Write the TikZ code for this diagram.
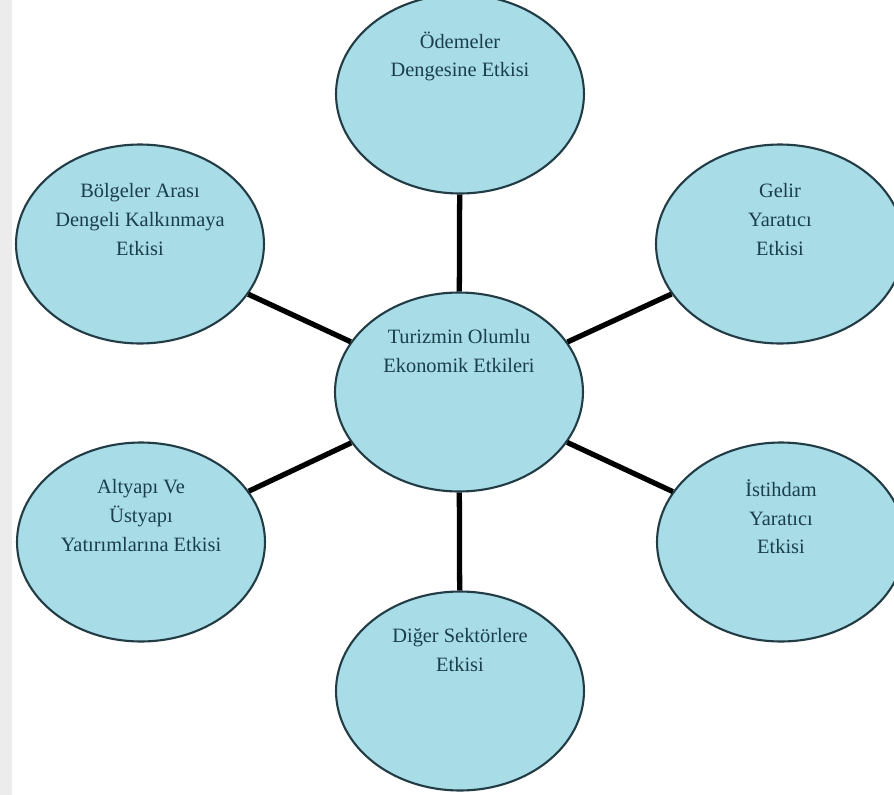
\documentclass[tikz,border=0pt]{standalone}
\usepackage{fontspec}
\setmainfont{Liberation Serif}
\usepackage{tikz}
\usetikzlibrary{shapes,calc,positioning}
\definecolor{bubblefill}{RGB}{168,220,230}
\definecolor{bubbleline}{RGB}{34,60,70}
\definecolor{bubbletext}{RGB}{26,62,76}
\definecolor{sidestrip}{RGB}{236,236,236}
\tikzstyle{bubble}=[ellipse, draw=bubbleline, fill=bubblefill,
                    line width=1.2pt, minimum width=4.96cm,
                    minimum height=3.98cm, inner sep=0pt]
\tikzstyle{txt}   =[align=center, inner sep=0pt, text=bubbletext,
                    font=\fontsize{11.6}{16.3}\selectfont]
\tikzstyle{link}  =[line width=3pt, black]

\begin{document}
\begin{tikzpicture}[x=0.02cm, y=-0.02cm]
    \useasboundingbox (0,0) rectangle (894,795);
    \clip (0,0) rectangle (894,795);
    \fill[sidestrip] (0,0) rectangle (12,795);

    % center and the six effects
    \node[bubble] (turizm)   at (459,392) {};
    \node[bubble] (ode)      at (460,94)  {};
    \node[bubble] (gelir)    at (780,244) {};
    \node[bubble] (istihdam) at (781,542) {};
    \node[bubble] (diger)    at (460,691) {};
    \node[bubble] (altyapi)  at (141,542) {};
    \node[bubble] (bolge)    at (140,244) {};

    \foreach \n in {ode,gelir,istihdam,diger,altyapi,bolge}
        \draw[link] (turizm) -- (\n);

    \node[txt, below=0.76cm of turizm.north]   (turizmT)   {Turizmin Olumlu\\Ekonomik Etkileri};
    \node[txt, below=0.76cm of ode.north]      (odeT)      {Ödemeler\\Dengesine Etkisi};
    \node[txt, below=0.8cm of gelir.north]     (gelirT)    {Gelir\\Yaratıcı\\Etkisi};
    \node[txt, below=0.76cm of istihdam.north] (istihdamT) {İstihdam\\Yaratıcı\\Etkisi};
    \node[txt, below=0.76cm of diger.north]    (digerT)    {Diğer Sektörlere\\Etkisi};
    \node[txt, below=0.76cm of altyapi.north]  (altyapiT)  {Altyapı Ve\\Üstyapı\\Yatırımlarına Etkisi};
    \node[txt, below=0.8cm of bolge.north]     (bolgeT)    {Bölgeler Arası\\Dengeli Kalkınmaya\\Etkisi};
\end{tikzpicture}
\end{document}
